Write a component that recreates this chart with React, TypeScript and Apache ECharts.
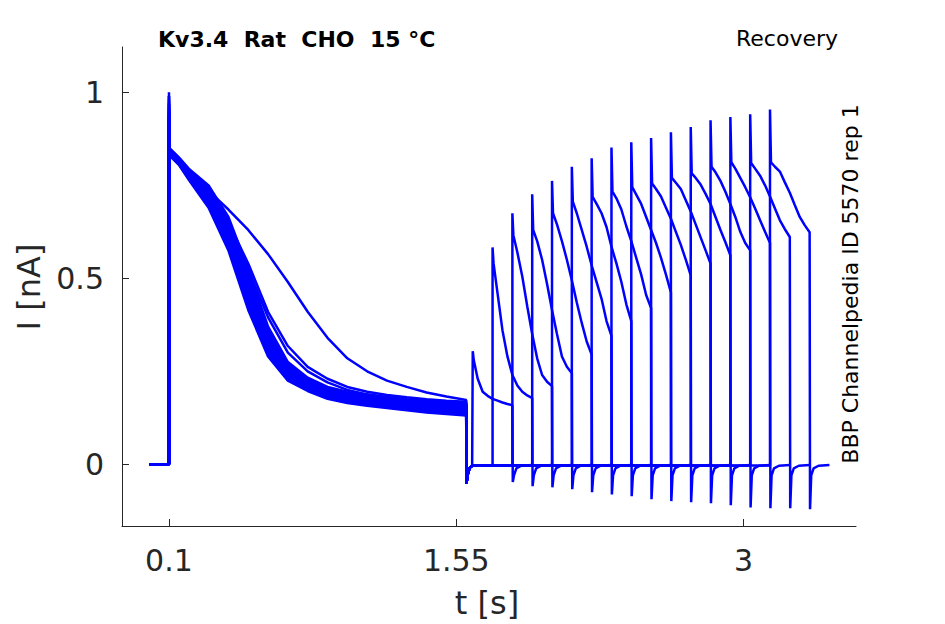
import React, { useEffect, useRef } from "react";
import * as echarts from "echarts";

const FONT = "DejaVu Sans";
const AXIS_COLOR = "#262626";
const TRACE_COLOR = "#0000ff";

// Axis ticks
const xTickValues = [0.1, 1.55, 3];
const xTickLabels = ["0.1", "1.55", "3"];
const yTickValues = [0, 0.5, 1];
const yTickLabels = ["0", "0.5", "1"];

// Protocol timing (s)
const holdStart = 0;
const firstPulseStart = 0.1;
const secondPulseDuration = 0.2;

// First pulse: peak values per sweep
const firstPeaks = [0.99, 0.95, 0.93, 1.0, 0.97, 0.94, 0.92, 0.96, 0.98, 0.93, 0.95, 0.91, 0.97, 0.94, 0.99, 0.92];

// First pulse: sample times and current values for each sweep (nA)
const firstPulseTimes = [0.103, 0.15, 0.2, 0.3, 0.4, 0.5, 0.6, 0.7, 0.8, 0.9, 1.0, 1.1, 1.2, 1.3, 1.4, 1.5, 1.6];
const sweep1First = [0.845, 0.82, 0.785, 0.735, 0.685, 0.63, 0.565, 0.49, 0.41, 0.34, 0.285, 0.25, 0.225, 0.208, 0.193, 0.182, 0.173];
const sweep2First = [0.845, 0.815, 0.785, 0.73, 0.65, 0.54, 0.41, 0.318, 0.262, 0.23, 0.208, 0.195, 0.186, 0.18, 0.175, 0.171, 0.168];
const sweep3First = [0.84, 0.812, 0.78, 0.725, 0.64, 0.525, 0.395, 0.3, 0.25, 0.22, 0.2, 0.188, 0.18, 0.174, 0.169, 0.165, 0.162];
const sweep4First = [0.85, 0.825, 0.795, 0.75, 0.665, 0.525, 0.37, 0.275, 0.233, 0.208, 0.195, 0.187, 0.181, 0.175, 0.171, 0.167, 0.165];
const sweep5First = [0.848, 0.823, 0.792, 0.744, 0.656, 0.514, 0.362, 0.27, 0.229, 0.205, 0.192, 0.184, 0.178, 0.172, 0.168, 0.164, 0.162];
const sweep6First = [0.846, 0.821, 0.789, 0.738, 0.647, 0.503, 0.354, 0.265, 0.226, 0.202, 0.189, 0.181, 0.175, 0.169, 0.165, 0.161, 0.158];
const sweep7First = [0.845, 0.82, 0.787, 0.734, 0.64, 0.495, 0.348, 0.261, 0.223, 0.199, 0.187, 0.179, 0.173, 0.167, 0.162, 0.158, 0.156];
const sweep8First = [0.843, 0.818, 0.785, 0.729, 0.634, 0.487, 0.342, 0.258, 0.22, 0.197, 0.185, 0.177, 0.171, 0.165, 0.16, 0.156, 0.153];
const sweep9First = [0.842, 0.817, 0.782, 0.725, 0.627, 0.478, 0.336, 0.254, 0.218, 0.194, 0.182, 0.174, 0.168, 0.162, 0.157, 0.153, 0.151];
const sweep10First = [0.84, 0.815, 0.78, 0.72, 0.62, 0.47, 0.33, 0.25, 0.215, 0.192, 0.18, 0.172, 0.166, 0.16, 0.155, 0.151, 0.148];
const sweep11First = [0.838, 0.813, 0.778, 0.716, 0.613, 0.462, 0.324, 0.246, 0.212, 0.19, 0.178, 0.17, 0.164, 0.158, 0.153, 0.149, 0.145];
const sweep12First = [0.837, 0.812, 0.776, 0.711, 0.607, 0.454, 0.318, 0.243, 0.21, 0.187, 0.176, 0.168, 0.162, 0.156, 0.15, 0.146, 0.143];
const sweep13First = [0.835, 0.81, 0.773, 0.707, 0.6, 0.445, 0.312, 0.239, 0.207, 0.185, 0.173, 0.165, 0.159, 0.153, 0.148, 0.144, 0.14];
const sweep14First = [0.834, 0.809, 0.771, 0.702, 0.593, 0.437, 0.306, 0.235, 0.204, 0.182, 0.171, 0.163, 0.157, 0.151, 0.145, 0.141, 0.138];
const sweep15First = [0.832, 0.807, 0.768, 0.696, 0.584, 0.426, 0.298, 0.23, 0.201, 0.179, 0.168, 0.16, 0.154, 0.148, 0.142, 0.138, 0.134];
const sweep16First = [0.83, 0.805, 0.765, 0.69, 0.575, 0.415, 0.29, 0.225, 0.197, 0.176, 0.165, 0.157, 0.151, 0.145, 0.139, 0.135, 0.131];
const firstPulseValues = [
  sweep1First, sweep2First, sweep3First, sweep4First, sweep5First, sweep6First, sweep7First, sweep8First,
  sweep9First, sweep10First, sweep11First, sweep12First, sweep13First, sweep14First, sweep15First, sweep16First,
];

// Tail after first pulse (shared by all sweeps)
const firstTailTimes = [1.601, 1.61, 1.62, 1.63];
const firstTailValues = [-0.051, -0.02, -0.008, -0.004];
const interPulseBaseline = -0.003;

// Second pulse start per sweep (s)
const secondStarts = [1.633, 1.733, 1.833, 1.933, 2.033, 2.133, 2.233, 2.333, 2.433, 2.533, 2.633, 2.733, 2.833, 2.933, 3.033, 3.133];

// Second pulse: offsets from its start (s) and current values per sweep (nA)
const secondOffsets = [0, 0.005, 0.025, 0.05, 0.075, 0.1, 0.125, 0.15, 0.175, 0.2];
const sweep1Second = [0.304, 0.28, 0.23, 0.195, 0.184, 0.176, 0.171, 0.166, 0.162, 0.159];
const sweep2Second = [0.583, 0.54, 0.46, 0.36, 0.29, 0.24, 0.212, 0.195, 0.185, 0.178];
const sweep3Second = [0.675, 0.616, 0.57, 0.505, 0.425, 0.35, 0.285, 0.24, 0.222, 0.21];
const sweep4Second = [0.726, 0.63, 0.6, 0.55, 0.485, 0.415, 0.35, 0.29, 0.262, 0.245];
const sweep5Second = [0.762, 0.675, 0.645, 0.6, 0.55, 0.495, 0.435, 0.38, 0.33, 0.295];
const sweep6Second = [0.8, 0.706, 0.675, 0.63, 0.585, 0.535, 0.49, 0.445, 0.385, 0.345];
const sweep7Second = [0.823, 0.719, 0.7, 0.675, 0.638, 0.585, 0.54, 0.49, 0.43, 0.385];
const sweep8Second = [0.852, 0.733, 0.715, 0.685, 0.64, 0.6, 0.555, 0.51, 0.455, 0.42];
const sweep9Second = [0.866, 0.745, 0.725, 0.7, 0.665, 0.63, 0.595, 0.555, 0.51, 0.462];
const sweep10Second = [0.877, 0.755, 0.74, 0.72, 0.69, 0.66, 0.625, 0.59, 0.55, 0.508];
const sweep11Second = [0.893, 0.77, 0.757, 0.74, 0.71, 0.68, 0.645, 0.61, 0.575, 0.54];
const sweep12Second = [0.907, 0.782, 0.77, 0.752, 0.727, 0.7, 0.665, 0.63, 0.597, 0.562];
const sweep13Second = [0.925, 0.8, 0.785, 0.762, 0.733, 0.7, 0.665, 0.625, 0.595, 0.575];
const sweep14Second = [0.934, 0.812, 0.795, 0.77, 0.745, 0.718, 0.688, 0.656, 0.625, 0.595];
const sweep15Second = [0.941, 0.81, 0.795, 0.776, 0.75, 0.72, 0.688, 0.656, 0.632, 0.611];
const sweep16Second = [0.954, 0.812, 0.8, 0.787, 0.758, 0.73, 0.697, 0.665, 0.643, 0.624];
const secondPulseValues = [
  sweep1Second, sweep2Second, sweep3Second, sweep4Second, sweep5Second, sweep6Second, sweep7Second, sweep8Second,
  sweep9Second, sweep10Second, sweep11Second, sweep12Second, sweep13Second, sweep14Second, sweep15Second, sweep16Second,
];

// Tail after second pulse: minimum per sweep, then shared recovery
const secondTailMins = [-0.048, -0.059, -0.062, -0.067, -0.075, -0.081, -0.086, -0.094, -0.099, -0.102, -0.105, -0.11, -0.116, -0.118, -0.118, -0.121];
const secondTailOffsets = [0.008, 0.02, 0.045, 0.1];
const secondTailValues = [-0.03, -0.011, -0.004, -0.002];

function buildSweep(i: number): number[][] {
  const pts: number[][] = [];
  pts.push([holdStart, 0], [firstPulseStart, 0], [firstPulseStart, firstPeaks[i]]);
  firstPulseTimes.forEach((t, j) => pts.push([t, firstPulseValues[i][j]]));
  firstTailTimes.forEach((t, j) => pts.push([t, firstTailValues[j]]));
  const s = secondStarts[i];
  pts.push([s, interPulseBaseline]);
  secondOffsets.forEach((o, j) => pts.push([s + o, secondPulseValues[i][j]]));
  const e = s + secondPulseDuration;
  pts.push([e + 0.002, secondTailMins[i]]);
  secondTailOffsets.forEach((o, j) => pts.push([e + o, secondTailValues[j]]));
  return pts;
}

function labelFor(values: number[], labels: string[], v: number): string {
  let best = 0;
  for (let k = 1; k < values.length; k++) {
    if (Math.abs(values[k] - v) < Math.abs(values[best] - v)) best = k;
  }
  return labels[best];
}

export default function App() {
  const ref = useRef<HTMLDivElement>(null);
  useEffect(() => {
    document.body.style.margin = "0";
    const chart = echarts.init(ref.current!, null, { renderer: "svg" });
    const series = secondStarts.map((_, i) => ({
      type: "line",
      data: buildSweep(i),
      showSymbol: false,
      symbol: "none",
      silent: true,
      lineStyle: { color: TRACE_COLOR, width: 2.5 },
      itemStyle: { color: TRACE_COLOR },
    }));
    chart.setOption({
      animation: false,
      backgroundColor: "#ffffff",
      grid: { left: 122, top: 47, right: 89, bottom: 98, containLabel: false },
      xAxis: {
        type: "value",
        min: -0.137,
        max: 3.567,
        axisLine: { show: true, onZero: false, lineStyle: { color: AXIS_COLOR, width: 1 } },
        axisTick: { show: true, inside: true, length: 7, customValues: xTickValues, lineStyle: { color: AXIS_COLOR, width: 1 } },
        axisLabel: {
          show: true,
          customValues: xTickValues,
          formatter: (v: number) => labelFor(xTickValues, xTickLabels, v),
          fontFamily: FONT,
          fontSize: 30,
          color: AXIS_COLOR,
          margin: 19,
        },
        splitLine: { show: false },
      },
      yAxis: {
        type: "value",
        min: -0.166,
        max: 1.122,
        axisLine: { show: true, onZero: false, lineStyle: { color: AXIS_COLOR, width: 1 } },
        axisTick: { show: true, inside: true, length: 7, customValues: yTickValues, lineStyle: { color: AXIS_COLOR, width: 1 } },
        axisLabel: {
          show: true,
          customValues: yTickValues,
          formatter: (v: number) => labelFor(yTickValues, yTickLabels, v),
          fontFamily: FONT,
          fontSize: 30,
          color: AXIS_COLOR,
          margin: 18,
        },
        splitLine: { show: false },
      },
      graphic: [
        {
          type: "text",
          left: 158,
          top: 28,
          style: { text: "Kv3.4  Rat  CHO  15 °C", font: `bold 22px ${FONT}`, fill: "#000000" },
        },
        {
          type: "text",
          left: 736,
          top: 27,
          style: { text: "Recovery", font: `22px ${FONT}`, fill: "#000000" },
        },
        {
          type: "text",
          x: 850,
          y: 284,
          rotation: Math.PI / 2,
          style: {
            text: "BBP Channelpedia ID 5570 rep 1",
            font: `22px ${FONT}`,
            fill: "#000000",
            align: "center",
            verticalAlign: "middle",
          },
        },
        {
          type: "text",
          x: 29,
          y: 287,
          rotation: Math.PI / 2,
          style: { text: "I [nA]", font: `32px ${FONT}`, fill: AXIS_COLOR, align: "center", verticalAlign: "middle" },
        },
        {
          type: "text",
          x: 487,
          y: 603,
          style: { text: "t [s]", font: `32px ${FONT}`, fill: AXIS_COLOR, align: "center", verticalAlign: "middle" },
        },
      ],
      series,
    });
    return () => chart.dispose();
  }, []);
  return <div ref={ref} style={{ width: 945, height: 624 }} />;
}
